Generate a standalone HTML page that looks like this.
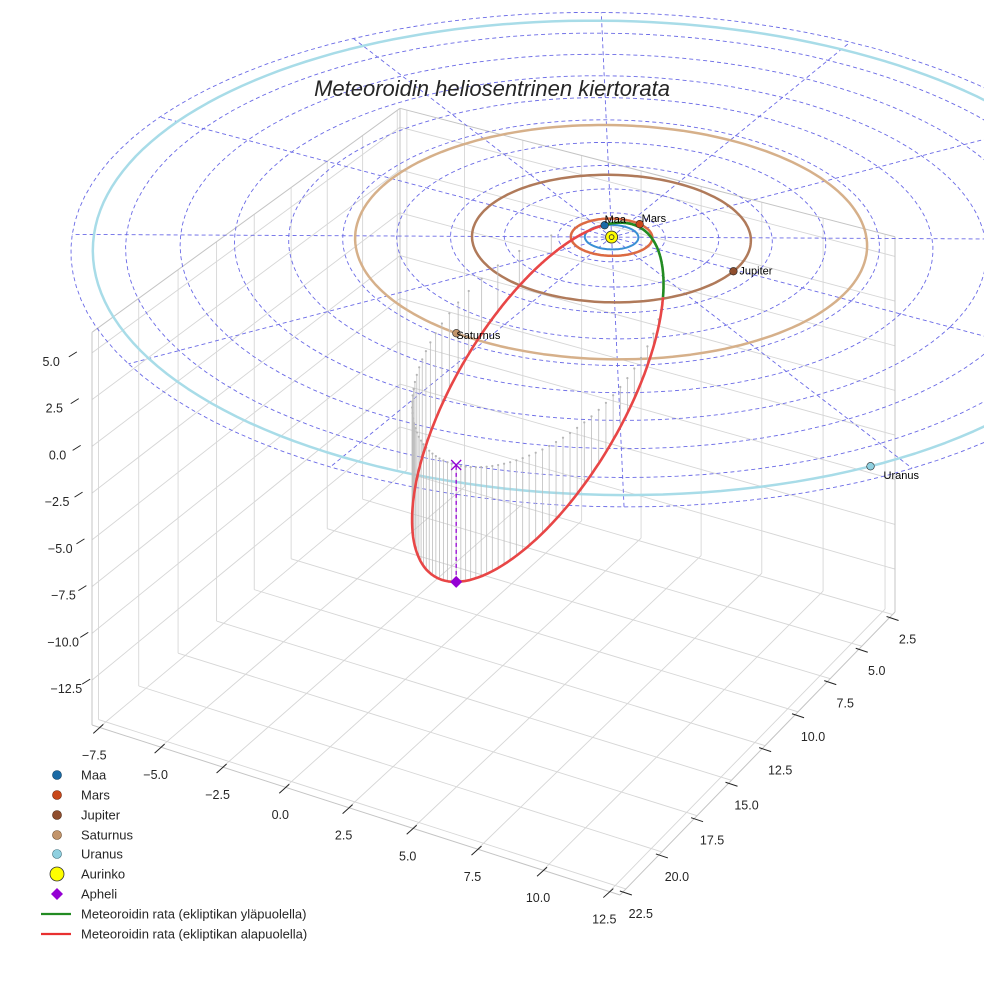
<!DOCTYPE html>
<html><head><meta charset="utf-8"><style>
html,body{margin:0;padding:0;background:#fff;}
svg{display:block;font-family:"Liberation Sans",sans-serif;}
</style></head><body>
<svg id="chart" width="984" height="984" viewBox="0 0 984 984" xmlns="http://www.w3.org/2000/svg">
<g id="panes"></g>
<g id="ecl"></g>
<g id="rings"></g>
<g id="stems"></g>
<g id="orbit"></g>
<g id="marks"></g>
<g id="axes"></g>
<text x="492" y="96" text-anchor="middle" font-size="22" font-style="italic" fill="#262626">Meteoroidin heliosentrinen kiertorata</text>
<g id="legend" font-size="13" fill="#262626">
  <circle cx="57" cy="775" r="4.5" fill="#1a6aa5" stroke="#0d3a5c" stroke-width="0.6"/>
  <text x="81" y="779.5">Maa</text>
  <circle cx="57" cy="795" r="4.5" fill="#c8481a" stroke="#6a2208" stroke-width="0.6"/>
  <text x="81" y="799.5">Mars</text>
  <circle cx="57" cy="815" r="4.5" fill="#8f4e2e" stroke="#4a2410" stroke-width="0.6"/>
  <text x="81" y="819.5">Jupiter</text>
  <circle cx="57" cy="835" r="4.5" fill="#c2946a" stroke="#6a4a2a" stroke-width="0.6"/>
  <text x="81" y="839.5">Saturnus</text>
  <circle cx="57" cy="854" r="4.5" fill="#8fd0e0" stroke="#3a6a78" stroke-width="0.6"/>
  <text x="81" y="858.5">Uranus</text>
  <circle cx="57" cy="874" r="7" fill="#ffff00" stroke="#333" stroke-width="0.8"/>
  <text x="81" y="878.5">Aurinko</text>
  <polygon points="57,888 63,894 57,900 51,894" fill="#9400d3"/>
  <text x="81" y="898.5">Apheli</text>
  <line x1="41" y1="914" x2="71" y2="914" stroke="#228b22" stroke-width="2.2"/>
  <text x="81" y="918.5">Meteoroidin rata (ekliptikan yläpuolella)</text>
  <line x1="41" y1="934" x2="71" y2="934" stroke="#e83030" stroke-width="2.2"/>
  <text x="81" y="938.5">Meteoroidin rata (ekliptikan alapuolella)</text>
</g>
</svg>
<script>
// ---- data ----
const xTicks = [-7.5, -5, -2.5, 0, 2.5, 5, 7.5, 10, 12.5];
const yTicks = [2.5, 5, 7.5, 10, 12.5, 15, 17.5, 20, 22.5];
const zTicks = [-12.5, -10, -7.5, -5, -2.5, 0, 2.5, 5];
const planetNames = ['Maa', 'Mars', 'Jupiter', 'Saturnus', 'Uranus'];
const planetRadii = [1.0, 1.52, 5.2, 9.54, 19.2];
const planetLongitudes = [226, -75, 1.4, 97, 33.5];
const gridRadii = [2, 4, 6, 8, 10, 12, 14, 16, 18, 20];
const gridSpokes = [0, 30, 60, 90, 120, 150, 180, 210, 240, 270, 300, 330];
const orbitA = 10.0;
const orbitE = 0.913;
const orbitInc = 28.8;
const orbitNode = 219.5;
const orbitPeri = 42.6;

// ---- styles ----
const ringColors = ['#3a8fd4', '#dc6a42', '#b07a5a', '#d6b08a', '#a8dce8'];
const markerColors = ['#1a6aa5', '#c8481a', '#8f4e2e', '#c2946a', '#8fd0e0'];
const labelDx = [0, 2, 6, 0, 13];
const labelDy = [-2, -2, 3, 6, 13];

// ---- projection (axis functions) ----
const XMIN = -7.8, XMAX = 12.9, YMIN = 2.3, YMAX = 22.9, ZMIN = -14.9, ZMAX = 6.1, KZ = 18.7;
const Q = [[400, 468], [895, 612], [620, 895], [92, 725]]; // floor quad calibration
const dx1 = Q[1][0]-Q[2][0], dx2 = Q[3][0]-Q[2][0], dx3 = Q[0][0]-Q[1][0]+Q[2][0]-Q[3][0];
const dy1 = Q[1][1]-Q[2][1], dy2 = Q[3][1]-Q[2][1], dy3 = Q[0][1]-Q[1][1]+Q[2][1]-Q[3][1];
const den = dx1*dy2 - dx2*dy1;
const Hg = (dx3*dy2 - dx2*dy3)/den, Hh = (dx1*dy3 - dx3*dy1)/den;
const Ha = Q[1][0]-Q[0][0]+Hg*Q[1][0], Hb = Q[3][0]-Q[0][0]+Hh*Q[3][0], Hc = Q[0][0];
const Hd = Q[1][1]-Q[0][1]+Hg*Q[1][1], He = Q[3][1]-Q[0][1]+Hh*Q[3][1], Hf = Q[0][1];
const wL = Hh + 1;
function proj(x, y, z) {
  const u = (x - XMIN)/(XMAX - XMIN), v = (y - YMIN)/(YMAX - YMIN);
  const w = Hg*u + Hh*v + 1;
  const X = (Ha*u + Hb*v + Hc)/w, Y = (Hd*u + He*v + Hf)/w;
  return [X, Y - KZ*(z - ZMIN)*wL/w];
}
const NS = 'http://www.w3.org/2000/svg';
function mk(parent, tag, attrs) {
  const el = document.createElementNS(NS, tag);
  for (const k in attrs) el.setAttribute(k, attrs[k]);
  parent.appendChild(el);
  return el;
}
function seg(parent, p, q, stroke, sw, dash) {
  const a = proj(...p), b = proj(...q);
  const el = mk(parent, 'line', {x1: a[0], y1: a[1], x2: b[0], y2: b[1], stroke: stroke, 'stroke-width': sw});
  if (dash) el.setAttribute('stroke-dasharray', dash);
  return el;
}
function poly(parent, pts, stroke, sw, dash) {
  const d = pts.map((p, i) => { const s = proj(...p); return (i ? 'L' : 'M') + s[0].toFixed(1) + ' ' + s[1].toFixed(1); }).join('');
  const el = mk(parent, 'path', {d: d, fill: 'none', stroke: stroke, 'stroke-width': sw, 'stroke-linejoin': 'round'});
  if (dash) el.setAttribute('stroke-dasharray', dash);
  return el;
}
const rad = Math.PI/180;

// ---- panes & grid ----
const panes = document.getElementById('panes');
const GC = '#d6d6d6';
xTicks.forEach(x => {
  let el = seg(panes, [x, YMIN, ZMIN], [x, YMAX, ZMIN], GC, 0.9);
  
  
  el = seg(panes, [x, YMIN, ZMIN], [x, YMIN, ZMAX], GC, 0.9);
  
  
});
yTicks.forEach(y => {
  let el = seg(panes, [XMIN, y, ZMIN], [XMAX, y, ZMIN], GC, 0.9);
  
  
  el = seg(panes, [XMIN, y, ZMIN], [XMIN, y, ZMAX], GC, 0.9);
  
  
});
zTicks.forEach(z => {
  let el = seg(panes, [XMIN, YMIN, z], [XMIN, YMAX, z], GC, 0.9);
  
  
  el = seg(panes, [XMIN, YMIN, z], [XMAX, YMIN, z], GC, 0.9);
  
  
});
[[[XMIN,YMAX,ZMIN],[XMAX,YMAX,ZMIN]],[[XMAX,YMIN,ZMIN],[XMAX,YMAX,ZMIN]],[[XMIN,YMAX,ZMIN],[XMIN,YMAX,ZMAX]],
 [[XMIN,YMIN,ZMIN],[XMIN,YMIN,ZMAX]],[[XMAX,YMIN,ZMIN],[XMAX,YMIN,ZMAX]],[[XMIN,YMIN,ZMAX],[XMIN,YMAX,ZMAX]],[[XMIN,YMIN,ZMAX],[XMAX,YMIN,ZMAX]]].forEach(e => {
  const el = seg(panes, e[0], e[1], '#c4c4c4', 1);
  
  
});

// ---- ecliptic polar grid ----
const ecl = document.getElementById('ecl');
const GB = '#6a6ae6';
gridRadii.forEach(r => {
  const pts = [];
  for (let t = 0; t <= 360; t += 3) pts.push([r*Math.cos(t*rad), r*Math.sin(t*rad), 0]);
  const el = poly(ecl, pts, GB, 0.9, '4 3');
  
  
});
const RMAX = gridRadii[gridRadii.length - 1];
gridSpokes.forEach(a => {
  const el = seg(ecl, [0, 0, 0], [RMAX*Math.cos(a*rad), RMAX*Math.sin(a*rad), 0], GB, 0.9, '4 3');
  
  
});

// ---- planet orbits ----
const rings = document.getElementById('rings');
planetRadii.forEach((r, i) => {
  const pts = [];
  for (let t = 0; t <= 360; t += 2) pts.push([r*Math.cos(t*rad), r*Math.sin(t*rad), 0]);
  const el = poly(rings, pts, ringColors[i], i === 0 ? 2 : 2.5);
  
  
});

// ---- meteoroid orbit ----
const cO = Math.cos(orbitNode*rad), sO = Math.sin(orbitNode*rad), cI = Math.cos(orbitInc*rad), sI = Math.sin(orbitInc*rad);
function orbitPos(nu) {
  const r = orbitA*(1 - orbitE*orbitE)/(1 + orbitE*Math.cos(nu*rad));
  const u = (nu + orbitPeri)*rad;
  return [r*(cO*Math.cos(u) - sO*Math.sin(u)*cI), r*(sO*Math.cos(u) + cO*Math.sin(u)*cI), r*Math.sin(u)*sI];
}
const orbitG = document.getElementById('orbit');
const stems = document.getElementById('stems');
for (let k = 0; k < 72; k++) {
  const M = k/72*2*Math.PI;
  let E = M;
  for (let it = 0; it < 30; it++) E = E - (E - orbitE*Math.sin(E) - M)/(1 - orbitE*Math.cos(E));
  const nu = 2*Math.atan2(Math.sqrt(1+orbitE)*Math.sin(E/2), Math.sqrt(1-orbitE)*Math.cos(E/2))/rad;
  const p = orbitPos(nu);
  if (p[2] >= 0) continue;
  const el = seg(stems, p, [p[0], p[1], 0], '#bdbdbd', 0.8);
  
  
  const t = proj(p[0], p[1], 0);
  const dot = mk(stems, 'circle', {cx: t[0], cy: t[1], r: 1.1, fill: '#b5b5b5'});
  
  
}
let cur = [], curUp = null;
function flush() {
  if (cur.length > 1) {
    const el = poly(orbitG, cur, curUp ? '#228b22' : '#e84646', 2.6);
    
    
  }
}
for (let nu = -180; nu <= 180; nu += 0.5) {
  const p = orbitPos(nu);
  const up = p[2] >= 0;
  if (curUp === null) curUp = up;
  if (up !== curUp) { cur.push(p); flush(); cur = [p]; curUp = up; } else cur.push(p);
}
flush();

// ---- markers ----
const marks = document.getElementById('marks');
const aph = orbitPos(180);
let el = seg(marks, aph, [aph[0], aph[1], 0], '#9400d3', 1.3, '4 3');


const ap = proj(...aph), ax = proj(aph[0], aph[1], 0);
el = mk(marks, 'path', {d: `M${ax[0]-5} ${ax[1]-5}L${ax[0]+5} ${ax[1]+5}M${ax[0]-5} ${ax[1]+5}L${ax[0]+5} ${ax[1]-5}`, stroke: '#9400d3', 'stroke-width': 1.3});


el = mk(marks, 'polygon', {points: `${ap[0]},${ap[1]-6} ${ap[0]+6},${ap[1]} ${ap[0]},${ap[1]+6} ${ap[0]-6},${ap[1]}`, fill: '#9400d3'});


const sun = proj(0, 0, 0);
el = mk(marks, 'circle', {cx: sun[0], cy: sun[1], r: 6, fill: '#ffff00', stroke: '#333', 'stroke-width': 0.9});


el = mk(marks, 'circle', {cx: sun[0], cy: sun[1], r: 2.4, fill: 'none', stroke: '#333', 'stroke-width': 0.9});


planetNames.forEach((n, i) => {
  const L = planetLongitudes[i]*rad, r = planetRadii[i];
  const s = proj(r*Math.cos(L), r*Math.sin(L), 0);
  const c = mk(marks, 'circle', {cx: s[0], cy: s[1], r: 3.8, fill: markerColors[i], stroke: '#222', 'stroke-width': 0.6});
  
  
  const t = mk(marks, 'text', {x: s[0] + labelDx[i], y: s[1] + labelDy[i], 'font-size': 11, fill: '#000'});
  t.textContent = n;
  
  
});

// ---- axes ticks & labels ----
const axes = document.getElementById('axes');
function tickText(x, y, s, anchor) {
  const t = mk(axes, 'text', {x: x, y: y, 'font-size': 12.5, fill: '#262626', 'text-anchor': anchor});
  t.textContent = s;
  return t;
}
function fmt(v) { return (v < 0 ? '\u2212' : '') + Math.abs(v).toFixed(1); }
xTicks.forEach(x => {
  const p = proj(x, YMAX, ZMIN);
  let l = mk(axes, 'line', {x1: p[0]+4, y1: p[1]-3, x2: p[0]-6, y2: p[1]+6, stroke: '#222', 'stroke-width': 1});
  
  
  const t = tickText(p[0]-5, p[1]+32, fmt(x), 'middle');
  
  
});
yTicks.forEach(y => {
  const p = proj(XMAX, y, ZMIN);
  let l = mk(axes, 'line', {x1: p[0]-6, y1: p[1]+2, x2: p[0]+6, y2: p[1]+6, stroke: '#222', 'stroke-width': 1});
  
  
  const t = tickText(p[0]+15, p[1]+29, fmt(y), 'middle');
  
  
});
zTicks.forEach(z => {
  const p = proj(XMIN, YMAX, z);
  const ex = 92 - 16*(z - ZMIN)/(ZMAX - ZMIN);
  let l = mk(axes, 'line', {x1: ex-8, y1: p[1]+4, x2: ex, y2: p[1]-1, stroke: '#222', 'stroke-width': 1});
  
  
  const rx = ex - (8 + 9*(z + 12.5)/17.5);
  const t = tickText(rx, p[1]+13, fmt(z), 'end');
  
  
});
</script>
</body></html>
